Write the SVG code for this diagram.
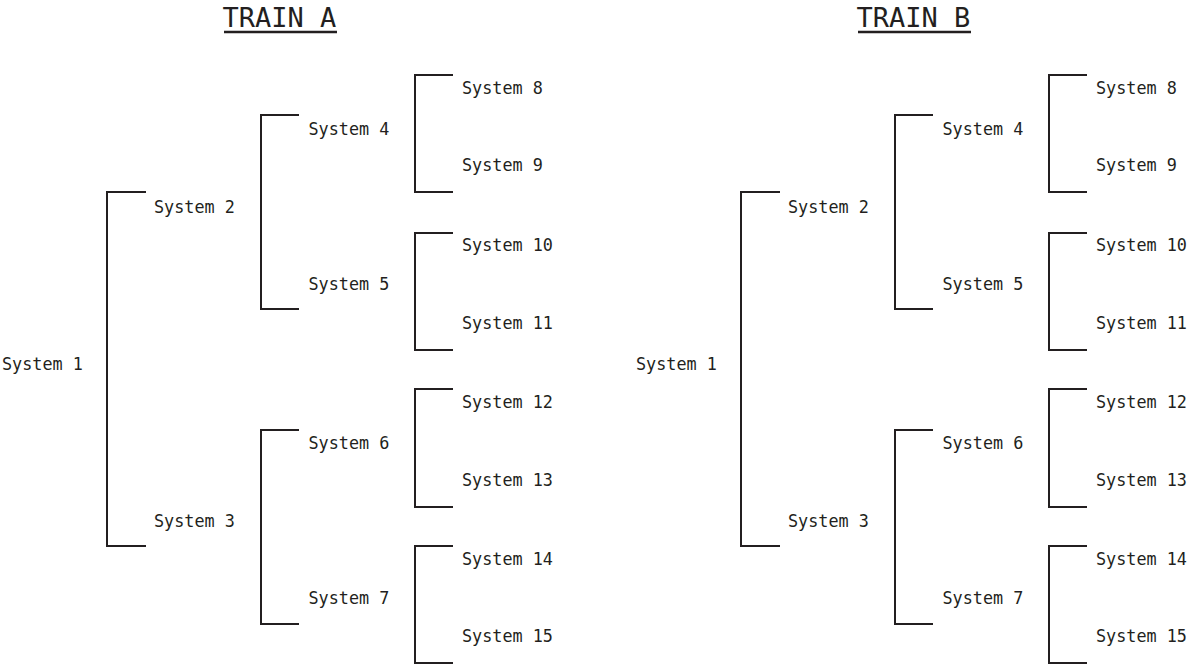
<svg xmlns="http://www.w3.org/2000/svg" width="1189" height="665" viewBox="0 0 1189 665">
<style>
.bg{fill:#fff}
.t{font-family:"DejaVu Sans Mono","Liberation Mono",monospace;font-size:16.8px;fill:#231f20}
.h{font-family:"DejaVu Sans Mono","Liberation Mono",monospace;font-size:27px;fill:#231f20}
.br{fill:none;stroke:#231f20;stroke-width:2}
.ul{stroke:#231f20;stroke-width:2.4}
</style>
<rect class="bg" width="1189" height="665"/>
<g id="connectors">
<g id="connectorsA">
<path class="br" d="M146 192H107V546H146"/>
<path class="br" d="M299 115H261V309H299"/>
<path class="br" d="M299 430H261V624H299"/>
<path class="br" d="M453 75H415V192H453"/>
<path class="br" d="M453 233H415V350H453"/>
<path class="br" d="M453 389H415V507H453"/>
<path class="br" d="M453 546H415V663H453"/>
</g>
<g id="connectorsB" transform="translate(634 0)">
<path class="br" d="M146 192H107V546H146"/>
<path class="br" d="M299 115H261V309H299"/>
<path class="br" d="M299 430H261V624H299"/>
<path class="br" d="M453 75H415V192H453"/>
<path class="br" d="M453 233H415V350H453"/>
<path class="br" d="M453 389H415V507H453"/>
<path class="br" d="M453 546H415V663H453"/>
</g>
</g>
<g id="trainA">
<g id="titleA"><text class="h" x="222.5" y="27">TRAIN A</text><line class="ul" x1="224" y1="32" x2="337" y2="32"/></g>
<g id="a1"><text class="t" x="2" y="370">System 1</text></g>
<g id="a2"><text class="t" x="154" y="213">System 2</text></g>
<g id="a3"><text class="t" x="154" y="527">System 3</text></g>
<g id="a4"><text class="t" x="308.5" y="135">System 4</text></g>
<g id="a5"><text class="t" x="308.5" y="290">System 5</text></g>
<g id="a6"><text class="t" x="308.5" y="449">System 6</text></g>
<g id="a7"><text class="t" x="308.5" y="604">System 7</text></g>
<g id="a8"><text class="t" x="462" y="94">System 8</text></g>
<g id="a9"><text class="t" x="462" y="171">System 9</text></g>
<g id="a10"><text class="t" x="462" y="251">System 10</text></g>
<g id="a11"><text class="t" x="462" y="329">System 11</text></g>
<g id="a12"><text class="t" x="462" y="408">System 12</text></g>
<g id="a13"><text class="t" x="462" y="486">System 13</text></g>
<g id="a14"><text class="t" x="462" y="565">System 14</text></g>
<g id="a15"><text class="t" x="462" y="642">System 15</text></g>
</g>
<g id="trainB" transform="translate(634 0)">
<g id="titleB"><text class="h" x="222.5" y="27">TRAIN B</text><line class="ul" x1="224" y1="32" x2="337" y2="32"/></g>
<g id="b1"><text class="t" x="2" y="370">System 1</text></g>
<g id="b2"><text class="t" x="154" y="213">System 2</text></g>
<g id="b3"><text class="t" x="154" y="527">System 3</text></g>
<g id="b4"><text class="t" x="308.5" y="135">System 4</text></g>
<g id="b5"><text class="t" x="308.5" y="290">System 5</text></g>
<g id="b6"><text class="t" x="308.5" y="449">System 6</text></g>
<g id="b7"><text class="t" x="308.5" y="604">System 7</text></g>
<g id="b8"><text class="t" x="462" y="94">System 8</text></g>
<g id="b9"><text class="t" x="462" y="171">System 9</text></g>
<g id="b10"><text class="t" x="462" y="251">System 10</text></g>
<g id="b11"><text class="t" x="462" y="329">System 11</text></g>
<g id="b12"><text class="t" x="462" y="408">System 12</text></g>
<g id="b13"><text class="t" x="462" y="486">System 13</text></g>
<g id="b14"><text class="t" x="462" y="565">System 14</text></g>
<g id="b15"><text class="t" x="462" y="642">System 15</text></g>
</g>
</svg>
